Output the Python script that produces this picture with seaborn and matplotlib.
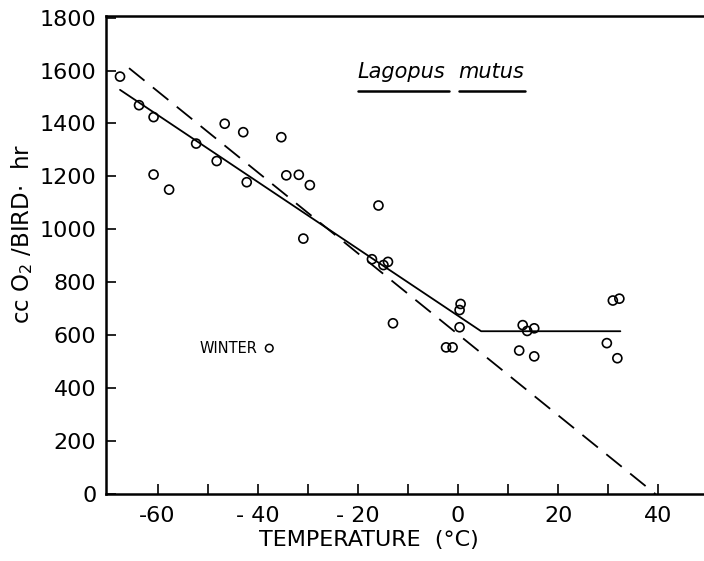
import matplotlib
matplotlib.use("Agg")
import matplotlib.pyplot as plt
import seaborn as sns
import pandas as pd

# Observed data (temperature °C, cc O2 / bird·hr)
temperature = [-67.5, -63.7, -60.8, -60.8, -57.7, -52.3, -46.6, -48.2, -42.9, -42.2,
               -35.3, -34.3, -31.8, -29.6, -30.9, -15.9, -17.2, -14.9, -14.0, -13.0,
               0.5, 0.3, 0.3, -2.4, -1.1, 12.9, 13.8, 15.2, 12.2, 15.2,
               30.9, 32.2, 29.7, 31.8]
oxygen = [1577, 1469, 1424, 1207, 1150, 1324, 1399, 1258, 1367, 1178,
          1348, 1204, 1206, 1167, 965, 1090, 887, 865, 877, 645,
          718, 695, 630, 554, 554, 638, 616, 626, 542, 520,
          731, 738, 570, 513]

# Fitted lines
solid_x = [-67.5, 4.6, 32.4]
solid_y = [1527, 615, 615]
dashed_x = [-65.7, 39.4]
dashed_y = [1609, 0]

# Legend marker
winter_x = [-37.7]
winter_y = [551]

x_ticks = [-60, -40, -20, 0, 20, 40]
x_tick_labels = ["-60", "- 40", "- 20", "0", "20", "40"]
x_minor = [-50, -30, -10, 10, 30]
y_ticks = [0, 200, 400, 600, 800, 1000, 1200, 1400, 1600, 1800]

sns.set_theme(style="ticks")
plt.rcParams["font.family"] = ["DejaVu Sans"]

fig = plt.figure(figsize=(7.04, 5.61), dpi=100)
ax = fig.add_axes([106 / 704, 67 / 561, (704 - 106) / 704, (494 - 16) / 561])

df = pd.DataFrame({"t": temperature, "o": oxygen})
sns.scatterplot(data=df, x="t", y="o", ax=ax, marker="o", s=42,
                facecolor="none", edgecolor="black", linewidth=1.2, zorder=3)
sns.lineplot(x=solid_x, y=solid_y, ax=ax, color="black", linewidth=1.3,
             estimator=None, sort=False)
sns.lineplot(x=dashed_x, y=dashed_y, ax=ax, color="black", linewidth=1.3,
             estimator=None, sort=False)
ax.lines[-1].set_dashes([11, 6])
ax.scatter(winter_x, winter_y, s=30, facecolor="none", edgecolor="black", linewidth=1.1)
ax.text(-40.0, 551, "WINTER", ha="right", va="center", fontsize=10.5, color="black")

ax.text(-20, 1572, "Lagopus", style="italic", fontsize=15, ha="left", va="baseline",
        color="black")
ax.text(0.1, 1572, "mutus", style="italic", fontsize=15, ha="left", va="baseline",
        color="black")
ax.plot([-20, -1.9], [1522, 1522], color="black", linewidth=1.8)
ax.plot([0.1, 13.4], [1522, 1522], color="black", linewidth=1.8)

ax.set_xlim(-70.3, 49.1)
ax.set_ylim(0, 1806)
ax.set_xticks(x_ticks)
ax.set_xticks(x_minor, minor=True)
ax.set_xticklabels(x_tick_labels)
ax.set_yticks(y_ticks)
ax.set_yticklabels([str(v) for v in y_ticks])

ax.tick_params(axis="both", which="both", direction="in", length=7, width=1.2,
               labelsize=16, color="black", labelcolor="black")
ax.tick_params(axis="x", pad=9)
ax.tick_params(axis="y", pad=7)
for side in ["left", "bottom", "top"]:
    ax.spines[side].set_linewidth(1.8)
    ax.spines[side].set_color("black")
ax.spines["right"].set_visible(False)

ax.set_xlabel("TEMPERATURE  (°C)", fontsize=16, color="black")
ax.xaxis.set_label_coords(0.44, -0.075)
ax.set_ylabel(r"cc O$_2$ /BIRD$\cdot$  hr", fontsize=16.5, color="black")
ax.yaxis.set_label_coords(-0.118, 0.545)

fig.savefig("out.png", dpi=100)
